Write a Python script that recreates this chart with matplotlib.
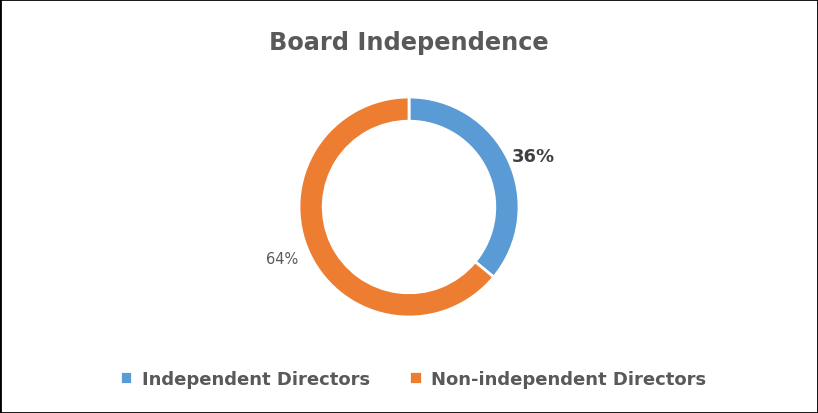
import matplotlib.pyplot as plt
import numpy as np
from matplotlib.patches import Rectangle

# Board composition
categories = ["Independent Directors", "Non-independent Directors"]
shares = [36, 64]
colors = ["#5B9BD5", "#ED7D31"]

fig = plt.figure(figsize=(8.18, 4.14), dpi=100)
fig.patches.append(Rectangle((0, 0), 1, 1, transform=fig.transFigure,
                             fill=False, edgecolor="black", linewidth=2))

# square axes centred on the donut
w, h = 220 / 818, 220 / 414
ax = fig.add_axes([0.5 - w / 2, 206 / 414 - h / 2, w, h])
wedges, _ = ax.pie(shares, colors=colors, startangle=90, counterclock=False,
                   radius=1, wedgeprops=dict(width=0.22, edgecolor="white", linewidth=2))
ax.set_xlim(-1, 1)
ax.set_ylim(-1, 1)
ax.set_aspect("equal")

# data labels, a little below the wedge mid-angle like excel puts them
for i, wdg in enumerate(wedges):
    mid = np.deg2rad((wdg.theta1 + wdg.theta2) / 2 - 3)
    if i == 0:
        ax.text(1.22 * np.cos(mid), 1.22 * np.sin(mid), f"{shares[i]}%",
                ha="center", va="center", fontsize=13, fontweight="bold",
                color="#404040")
    else:
        ax.text(1.25 * np.cos(mid), 1.25 * np.sin(mid), f"{shares[i]}%",
                ha="center", va="center", fontsize=10.5, color="#595959")

fig.text(0.5, 1 - 43 / 414, "Board Independence", ha="center", va="center",
         fontsize=17.3, fontweight="bold", color="#595959")

fig.legend(wedges, categories, loc="center", bbox_to_anchor=(0.5 + 4 / 818, 34 / 414),
           ncol=2, frameon=False, handlelength=0.7, handleheight=0.7,
           handletextpad=0.5, columnspacing=2.2,
           prop=dict(size=13, weight="bold"), labelcolor="#595959")

fig.savefig("out.png", dpi=100)
